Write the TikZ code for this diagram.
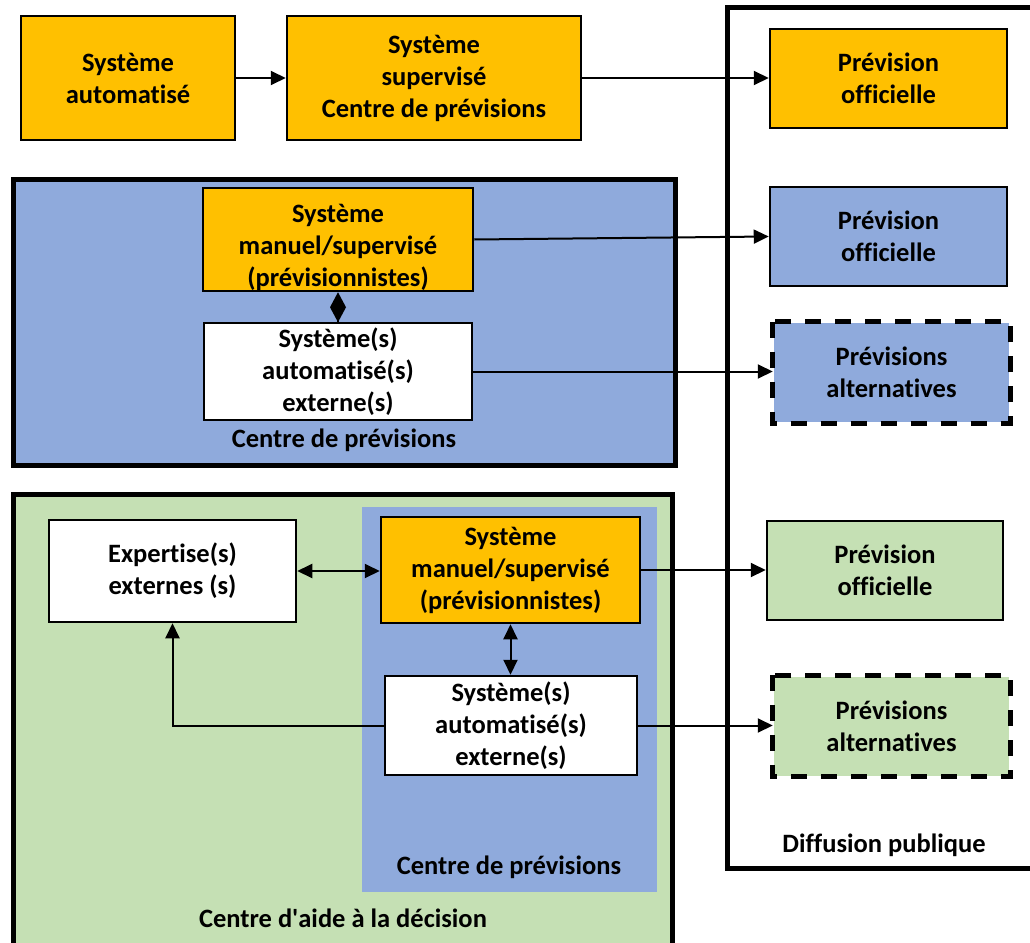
\documentclass[tikz,border=0pt]{standalone}
\usepackage{fontspec}
\setmainfont{Carlito}[Ligatures={NoCommon}]
\usetikzlibrary{arrows.meta,calc}

\definecolor{orangebox}{HTML}{FFC000}
\definecolor{bluebox}{HTML}{8FAADC}
\definecolor{greenbox}{HTML}{C5E0B4}

\tikzset{
  txt/.style={font=\fontsize{26.5}{32}\selectfont\bfseries, align=center},
  bx/.style={draw=black, line width=2.5pt, inner sep=0pt, txt},
  orangefill/.style={bx, fill=orangebox},
  bluefill/.style={bx, fill=bluebox},
  greenfill/.style={bx, fill=greenbox},
  whitefill/.style={bx, fill=white},
  dashbox/.style={line width=5pt, dash pattern=on 16pt off 14pt},
  container/.style={draw=black, line width=5pt},
  lbl/.style={txt, inner sep=0pt},
  conn/.style={line width=2pt, -{Triangle[length=15pt,width=14pt]}},
  dconn/.style={line width=2pt, {Triangle[length=15pt,width=14pt]}-{Triangle[length=15pt,width=14pt]}},
}

\begin{document}
\begin{tikzpicture}[x=1pt, y=-1pt]
\useasboundingbox (0,0) rectangle (1030,942);
\clip (0,0) rectangle (1030,942);

% containers
\draw[container, fill=white] (727.5,8) rectangle (1050,868);
\draw[container, fill=bluebox] (13.5,179.5) rectangle (675,465);
\draw[container, fill=greenbox] (13.5,494.5) rectangle (672.5,970);
\fill[bluebox] (362,507) rectangle (657,892);

\node[lbl] (diff) at (884,845) {Diffusion publique};
\node[lbl] (cp1) at (344,440) {Centre de prévisions};
\node[lbl] (cp2) at (509,867) {Centre de prévisions};
\node[lbl] (cad) at (343,918) {Centre d\textquotesingle aide à la décision};

% top row
\node[orangefill, minimum width=214pt, minimum height=124pt] (a) at (128,78)
  {Système\\automatisé};
\node[orangefill, minimum width=294pt, minimum height=124pt] (b) at (434,78)
  {Système\\supervisé\\Centre de prévisions};
\node[orangefill, minimum width=237pt, minimum height=99pt] (po1) at (888.5,78.5)
  {Prévision\\officielle};

% forecasting centre
\node[orangefill, minimum width=270pt, minimum height=103pt] (o1) at (338,239.5) {};
\node[lbl] (o1t) at (338,247) {Système\\manuel/supervisé\\(prévisionnistes)};
\node[whitefill, minimum width=268pt, minimum height=97pt] (w1) at (338,371.5)
  {Système(s)\\automatisé(s)\\externe(s)};
\node[bluefill, minimum width=237pt, minimum height=99pt] (po2) at (888.5,236.5)
  {Prévision\\officielle};
\node[bx, fill=bluebox, draw=none, minimum width=235pt, minimum height=99pt] (pa1) at (891.5,372.5)
  {Prévisions\\alternatives};
\draw[dashbox] (pa1.north west) rectangle (pa1.south east);

% decision support centre
\node[whitefill, minimum width=247pt, minimum height=102pt] (exp) at (172.5,571)
  {Expertise(s)\\externes (s)};
\node[orangefill, minimum width=259pt, minimum height=106pt] (o2) at (510.5,570)
  {Système\\manuel/supervisé\\(prévisionnistes)};
\node[whitefill, minimum width=252pt, minimum height=99pt] (w2) at (511,725.5)
  {Système(s)\\automatisé(s)\\externe(s)};
\node[greenfill, minimum width=236pt, minimum height=99pt] (po3) at (885,570.5)
  {Prévision\\officielle};
\node[bx, fill=greenbox, draw=none, minimum width=235pt, minimum height=99pt] (pa2) at (891.5,726)
  {Prévisions\\alternatives};
\draw[dashbox] (pa2.north west) rectangle (pa2.south east);

% connectors
\draw[conn] (a.east) -- (a.east -| b.west);
\draw[conn] (b.east) -- (b.east -| po1.west);
\draw[conn] (o1.east) -- (po2.west);
\draw[line width=2pt, -{Diamond[length=30pt,width=16pt]}] (w1.north) -- (o1.south);
\draw[conn] (w1.east) -- (w1.east -| pa1.west);
\draw[dconn] (exp.east) -- (exp.east -| o2.west);
\draw[dconn] (o2.south) -- (o2.south |- w2.north);
\draw[conn] (o2.east) -- (o2.east -| po3.west);
\draw[conn] (w2.east) -- (w2.east -| pa2.west);
\draw[conn] (w2.west) -| (exp.south);
\end{tikzpicture}
\end{document}
